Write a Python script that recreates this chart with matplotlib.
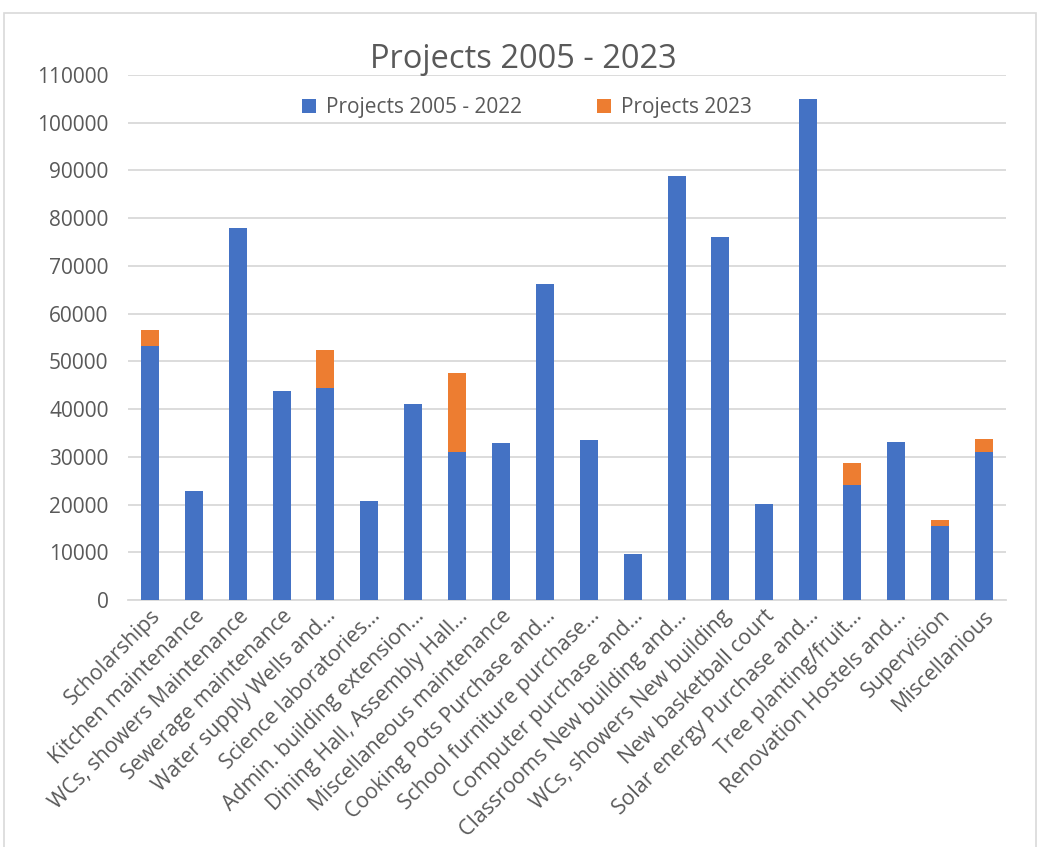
import matplotlib.pyplot as plt
import matplotlib.patches as mpatches
import numpy as np

plt.rcParams['font.family'] = ['Open Sans', 'DejaVu Sans']

categories = ["Scholarships", "Kitchen maintenance", "WCs, showers Maintenance",
              "Sewerage maintenance", "Water supply Wells and...",
              "Science laboratories...", "Admin. building extension...",
              "Dining Hall, Assembly Hall...", "Miscellaneous maintenance",
              "Cooking Pots Purchase and...", "School furniture purchase...",
              "Computer purchase and...", "Classrooms New building and...",
              "WCs, showers New building", "New basketball court",
              "Solar energy Purchase and...", "Tree planting/fruit...",
              "Renovation Hostels and...", "Supervision", "Miscellanious"]
proj_2005_2022 = [53300, 22800, 77900, 43700, 44400, 20700, 41100, 30900, 32800,
                  66200, 33500, 9700, 88800, 76100, 20100, 104900, 24100, 33000,
                  15400, 30900]
proj_2023 = [3200, 0, 0, 0, 8000, 0, 0, 16600, 0,
             0, 0, 0, 0, 0, 0, 0, 4700, 0,
             1400, 2800]

blue = "#4472C4"
orange = "#ED7D31"
grey = "#595959"

fig = plt.figure(figsize=(10.41, 8.47), dpi=100)
ax = fig.add_axes([0.123, 0.2916, 0.843, 0.62])

x = np.arange(len(categories))
ax.bar(x, proj_2005_2022, width=0.41, color=blue, label="Projects 2005 - 2022", zorder=3)
ax.bar(x, proj_2023, width=0.41, bottom=proj_2005_2022, color=orange,
       label="Projects 2023", zorder=3)

ax.set_xlim(-0.5, len(categories) - 0.5)
ax.set_ylim(0, 110000)
ax.set_yticks(np.arange(0, 110001, 10000))
ax.tick_params(axis='y', length=0, labelsize=15, labelcolor=grey, pad=14)
ax.tick_params(axis='x', length=0, labelsize=15.3, labelcolor=grey, pad=4)
ax.set_xticks(x)
ax.set_xticklabels(categories, rotation=45, ha='right', rotation_mode='anchor')
ax.grid(axis='y', color="#D9D9D9", linewidth=1.3, zorder=0)
for s in ['top', 'right', 'left']:
    ax.spines[s].set_visible(False)
ax.spines['bottom'].set_color("#D9D9D9")
ax.spines['bottom'].set_linewidth(1.3)

ax.legend(loc='center', bbox_to_anchor=(0.455, 0.937), ncol=2, frameon=False,
          fontsize=15, labelcolor=grey, handlelength=0.65, handleheight=0.65,
          columnspacing=3.6, handletextpad=0.5)

fig.text(0.503, 0.93, "Projects 2005 - 2023", ha='center', va='center',
         fontsize=23.5, color=grey)

# chart border
fig.patches.append(mpatches.Rectangle((0.004, -0.01), 0.991, 0.995,
                                      transform=fig.transFigure, fill=False,
                                      edgecolor="#D9D9D9", linewidth=1.2))

fig.savefig("out.png", dpi=100)
